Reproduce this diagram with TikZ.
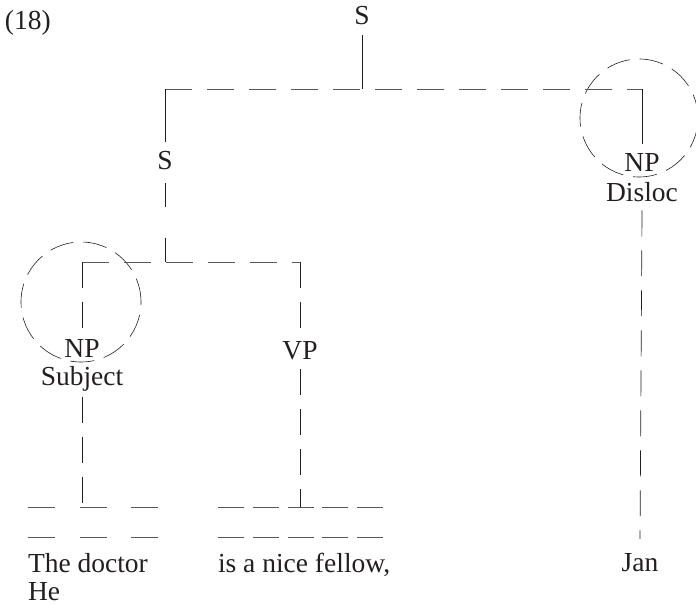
\documentclass[tikz,border=0pt]{standalone}
\usepackage{fontspec}
\setmainfont{Liberation Serif}
\definecolor{ink}{RGB}{35,31,32}
\begin{document}
\begin{tikzpicture}[x=1pt,y=-1pt,
  lbl/.style={inner sep=10pt, outer sep=0pt, font=\fontsize{27.5}{30}\selectfont, text=ink},
  vsolid/.style={draw=ink, line width=0.7pt},
  vdash/.style={draw=ink, line width=0.7pt, dash pattern=on 26pt off 14pt},
  hdash/.style={draw=ink!75, line width=0.8pt, dash pattern=on 27pt off 15pt},
  ring/.style={draw=ink, line width=0.6pt, dash pattern=on 24pt off 10pt, circle, inner sep=0pt},
  barsL/.style={draw=ink!75, line width=0.8pt, dash pattern=on 27pt off 24.5pt},
  barsR/.style={draw=ink!75, line width=0.8pt, dash pattern=on 26pt off 8.75pt}]
\useasboundingbox (0,0) rectangle (696,604);
% labels
\node[lbl, anchor=base west, inner sep=0pt] (num) at (5,30) {(18)};
\node[lbl, anchor=base] (Stop) at (362,25) {S};
\node[lbl, anchor=base] (S2) at (165,170) {S};
\node[lbl, anchor=base] (NPd) at (642,172) {NP};
\node[lbl, anchor=base, inner sep=8pt] (Disloc) at (642,202) {Disloc};
\node[lbl, anchor=base] (NPs) at (82,357) {NP};
\node[lbl, anchor=base, inner sep=6pt] (Subj) at (82,385) {Subject};
\node[lbl, anchor=base] (VP) at (300,359) {VP};
\node[lbl, anchor=base, inner sep=14pt] (Jan) at (640,571) {Jan};
\node[lbl, anchor=base west, inner sep=0pt] (doctor) at (28,572) {The doctor};
\node[lbl, anchor=base west, inner sep=0pt] (he) at (28,600) {He};
\node[lbl, anchor=base west, inner sep=0pt] (fellow) at (218,572) {is a nice fellow,};
% dashed rings
\node[ring, minimum size=118pt] (ringD) at (639,118) {};
\node[ring, minimum size=120pt] (ringS) at (81,302) {};
% coordinates
\coordinate (tl) at (165,89);
\coordinate (tm) at (362,89);
\coordinate (tr) at (642,89);
\coordinate (ml) at (82,262);
\coordinate (mm) at (165,262);
\coordinate (mr) at (300,262);
\coordinate (bl) at (82,507);
\coordinate (br) at (300,507);
% top level
\draw[vsolid] (Stop.south) -- (tm);
\draw[hdash] (tl) -- (tr);
\draw[vsolid] (tl) -- (S2.north);
\draw[vsolid] (tr) -- (NPd.north);
\draw[vdash] (Disloc.south) -- (Jan.north);
% middle level
\draw[vdash, dash pattern=on 24pt off 31pt] (mm) -- (S2.south);
\draw[hdash] (ml) -- (mr);
\draw[vdash] (ml) -- (NPs.north);
\draw[vdash] (mr) -- (VP.north);
\draw[vdash] (Subj.south) -- (bl);
\draw[vdash] (VP.south) -- (br);
% bottom bars
\coordinate (a1) at (28,507); \coordinate (a2) at (160,507);
\coordinate (a3) at (28,537); \coordinate (a4) at (160,537);
\coordinate (b1) at (218,507); \coordinate (b2) at (384,507);
\coordinate (b3) at (218,537); \coordinate (b4) at (384,537);
\draw[barsL] (a1) -- (a2);
\draw[barsL] (a3) -- (a4);
\draw[barsR] (b1) -- (b2);
\draw[barsR] (b3) -- (b4);
\end{tikzpicture}
\end{document}
